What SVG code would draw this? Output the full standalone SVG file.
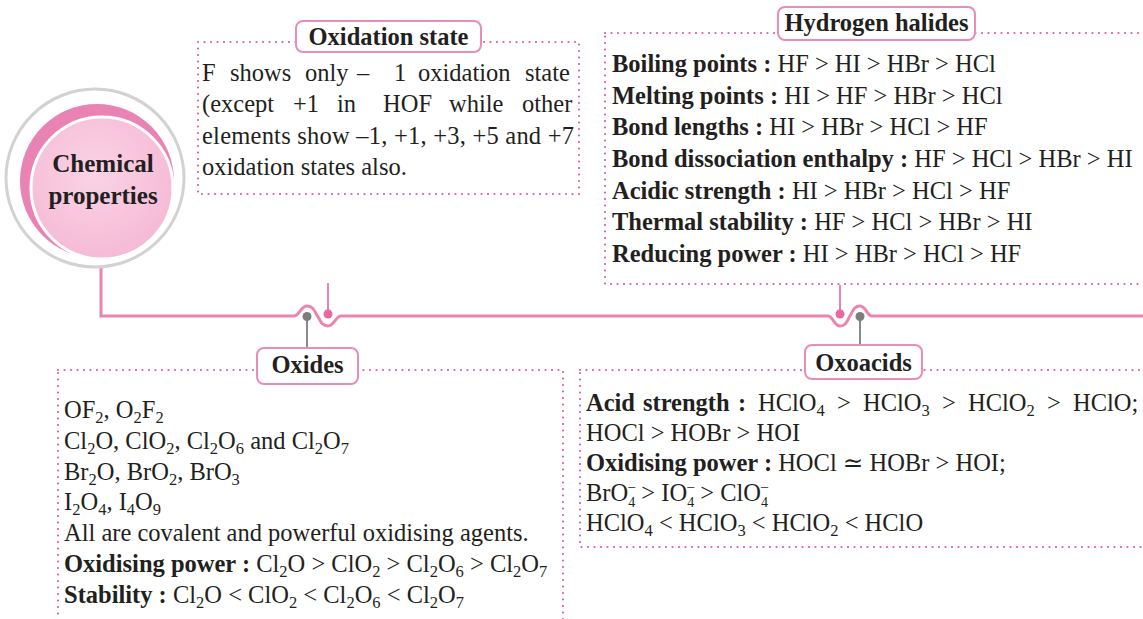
<svg xmlns="http://www.w3.org/2000/svg" width="1143" height="619" viewBox="0 0 1143 619">
<defs>
<style>
.t{font-family:"Liberation Serif","DejaVu Serif",serif;font-size:24.5px;fill:#231f20}
.b{font-weight:bold}
.s{font-size:16.5px}
.ss{font-size:14px}
.ttl{font-family:"Liberation Serif","DejaVu Serif",serif;font-size:24.5px;font-weight:bold;fill:#231f20;text-anchor:middle}
.dot{fill:none;stroke:#dd5aa4;stroke-width:2.2;stroke-linecap:round;stroke-dasharray:0 6.5}
.tb{fill:#fff;stroke:#e88cb9;stroke-width:2}
.main{fill:none;stroke:#ec84ae;stroke-width:3}
.grey{stroke:#8a8a8a;stroke-width:2}
.pink{stroke:#ec84ae;stroke-width:2}
</style>
<radialGradient id="lg" cx="0.45" cy="0.4" r="0.7">
<stop offset="0" stop-color="#fad3e5"/>
<stop offset="1" stop-color="#f5b6d3"/>
</radialGradient>
</defs>
<rect width="1143" height="619" fill="#fff"/>

<g id="connectors">
<path class="main" d="M101,268 L101,316 L294,316 C299,316 301,306 307,306 C313,306 314.5,311 317.5,316 C320.5,321 322,326 328,326 C334,326 336,316 341,316 L828,316 C833,316 834,326 840,326 C846,326 847,321 850,316 C853,311 854,306 860,306 C866,306 867,316 872,316 L1143,316"/>
<line class="pink" x1="328" y1="283" x2="328" y2="313"/>
<line class="pink" x1="840" y1="285" x2="840" y2="313"/>
<line class="grey" x1="307" y1="317" x2="307" y2="348"/>
<line class="grey" x1="860" y1="317" x2="860" y2="345"/>
<circle cx="307" cy="316.5" r="4.5" fill="#7d7d7d"/>
<circle cx="328" cy="314" r="4.5" fill="#e9679f"/>
<circle cx="840" cy="314" r="4.5" fill="#e9679f"/>
<circle cx="860" cy="316.5" r="4.5" fill="#7d7d7d"/>
</g>

<g id="chemical-properties">
<circle cx="95" cy="178" r="89" fill="#fff" stroke="#d2d2d2" stroke-width="3"/>
<circle cx="97" cy="181" r="77" fill="#e983b4"/>
<circle cx="102" cy="188" r="71" fill="url(#lg)" stroke="#fff" stroke-width="3"/>
<text class="ttl" x="103" y="172" style="font-size:25px">Chemical</text>
<text class="ttl" x="103" y="204" style="font-size:25px">properties</text>
</g>

<g id="oxidation-state">
<rect class="dot" x="198" y="42" width="381" height="152"/>
<rect class="tb" x="296" y="21" width="185" height="31" rx="7"/>
<text class="ttl" x="388.5" y="45">Oxidation state</text>
<text class="t" y="81"><tspan x="202">F</tspan><tspan x="230">shows</tspan><tspan x="305">only</tspan><tspan x="357">–</tspan><tspan x="394">1</tspan><tspan x="418">oxidation</tspan><tspan x="525">state</tspan></text>
<text class="t" y="112"><tspan x="202">(except</tspan><tspan x="293">+1</tspan><tspan x="337">in</tspan><tspan x="383">HOF</tspan><tspan x="449">while</tspan><tspan x="522">other</tspan></text>
<text class="t" x="202" y="144" textLength="372" lengthAdjust="spacing">elements show –1, +1, +3, +5 and +7</text>
<text class="t" x="202" y="175">oxidation states also.</text>
</g>

<g id="hydrogen-halides">
<rect class="dot" x="605" y="33" width="560" height="251"/>
<rect class="tb" x="778" y="7" width="197" height="33" rx="7"/>
<text class="ttl" x="876.5" y="31">Hydrogen halides</text>
<text class="t" x="612" y="72"><tspan class="b">Boiling points :</tspan> HF &gt; HI &gt; HBr &gt; HCl</text>
<text class="t" x="612" y="103.5"><tspan class="b">Melting points :</tspan> HI &gt; HF &gt; HBr &gt; HCl</text>
<text class="t" x="612" y="135"><tspan class="b">Bond lengths :</tspan> HI &gt; HBr &gt; HCl &gt; HF</text>
<text class="t" x="612" y="167"><tspan class="b">Bond dissociation enthalpy :</tspan> HF &gt; HCl &gt; HBr &gt; HI</text>
<text class="t" x="612" y="198.5"><tspan class="b">Acidic strength :</tspan> HI &gt; HBr &gt; HCl &gt; HF</text>
<text class="t" x="612" y="230"><tspan class="b">Thermal stability :</tspan> HF &gt; HCl &gt; HBr &gt; HI</text>
<text class="t" x="612" y="262"><tspan class="b">Reducing power :</tspan> HI &gt; HBr &gt; HCl &gt; HF</text>
</g>

<g id="oxides">
<rect class="dot" x="58" y="370" width="505" height="270"/>
<rect class="tb" x="257" y="348" width="101" height="36" rx="7"/>
<text class="ttl" x="307.5" y="373">Oxides</text>
<text class="t" x="64" y="418">OF<tspan class="s" dy="5">2</tspan><tspan dy="-5">, O</tspan><tspan class="s" dy="5">2</tspan><tspan dy="-5">F</tspan><tspan class="s" dy="5">2</tspan></text>
<text class="t" x="64" y="449">Cl<tspan class="s" dy="5">2</tspan><tspan dy="-5">O, ClO</tspan><tspan class="s" dy="5">2</tspan><tspan dy="-5">, Cl</tspan><tspan class="s" dy="5">2</tspan><tspan dy="-5">O</tspan><tspan class="s" dy="5">6</tspan><tspan dy="-5"> and Cl</tspan><tspan class="s" dy="5">2</tspan><tspan dy="-5">O</tspan><tspan class="s" dy="5">7</tspan></text>
<text class="t" x="64" y="480">Br<tspan class="s" dy="5">2</tspan><tspan dy="-5">O, BrO</tspan><tspan class="s" dy="5">2</tspan><tspan dy="-5">, BrO</tspan><tspan class="s" dy="5">3</tspan></text>
<text class="t" x="64" y="510">I<tspan class="s" dy="5">2</tspan><tspan dy="-5">O</tspan><tspan class="s" dy="5">4</tspan><tspan dy="-5">, I</tspan><tspan class="s" dy="5">4</tspan><tspan dy="-5">O</tspan><tspan class="s" dy="5">9</tspan></text>
<text class="t" x="64" y="541">All are covalent and powerful oxidising agents.</text>
<text class="t" x="64" y="572"><tspan class="b">Oxidising power :</tspan> Cl<tspan class="s" dy="5">2</tspan><tspan dy="-5">O &gt; ClO</tspan><tspan class="s" dy="5">2</tspan><tspan dy="-5"> &gt; Cl</tspan><tspan class="s" dy="5">2</tspan><tspan dy="-5">O</tspan><tspan class="s" dy="5">6</tspan><tspan dy="-5"> &gt; Cl</tspan><tspan class="s" dy="5">2</tspan><tspan dy="-5">O</tspan><tspan class="s" dy="5">7</tspan></text>
<text class="t" x="64" y="603"><tspan class="b">Stability :</tspan> Cl<tspan class="s" dy="5">2</tspan><tspan dy="-5">O &lt; ClO</tspan><tspan class="s" dy="5">2</tspan><tspan dy="-5"> &lt; Cl</tspan><tspan class="s" dy="5">2</tspan><tspan dy="-5">O</tspan><tspan class="s" dy="5">6</tspan><tspan dy="-5"> &lt; Cl</tspan><tspan class="s" dy="5">2</tspan><tspan dy="-5">O</tspan><tspan class="s" dy="5">7</tspan></text>
</g>

<g id="oxoacids">
<rect class="dot" x="580" y="370" width="585" height="177"/>
<rect class="tb" x="805" y="345" width="117" height="34" rx="7"/>
<text class="ttl" x="863.5" y="371">Oxoacids</text>
<text class="t" y="411"><tspan class="b" x="586">Acid</tspan><tspan class="b" x="643">strength</tspan><tspan class="b" x="738">:</tspan><tspan x="758">HClO</tspan><tspan class="s" dy="5">4</tspan><tspan x="837" dy="-5">&gt;</tspan><tspan x="863">HClO</tspan><tspan class="s" dy="5">3</tspan><tspan x="942" dy="-5">&gt;</tspan><tspan x="968">HClO</tspan><tspan class="s" dy="5">2</tspan><tspan x="1047" dy="-5">&gt;</tspan><tspan x="1073">HClO;</tspan></text>
<text class="t" x="586" y="441">HOCl &gt; HOBr &gt; HOI</text>
<text class="t" x="586" y="471"><tspan class="b">Oxidising power :</tspan> HOCl ≃ HOBr &gt; HOI;</text>
<text class="t" x="586" y="501">BrO<tspan class="ss" dy="6">4</tspan><tspan class="ss" dx="-7" dy="-16">–</tspan><tspan dy="10"> &gt; IO</tspan><tspan class="ss" dy="6">4</tspan><tspan class="ss" dx="-7" dy="-16">–</tspan><tspan dy="10"> &gt; ClO</tspan><tspan class="ss" dy="6">4</tspan><tspan class="ss" dx="-7" dy="-16">–</tspan></text>
<text class="t" x="586" y="531">HClO<tspan class="s" dy="5">4</tspan><tspan dy="-5"> &lt; HClO</tspan><tspan class="s" dy="5">3</tspan><tspan dy="-5"> &lt; HClO</tspan><tspan class="s" dy="5">2</tspan><tspan dy="-5"> &lt; HClO</tspan></text>
</g>
</svg>
